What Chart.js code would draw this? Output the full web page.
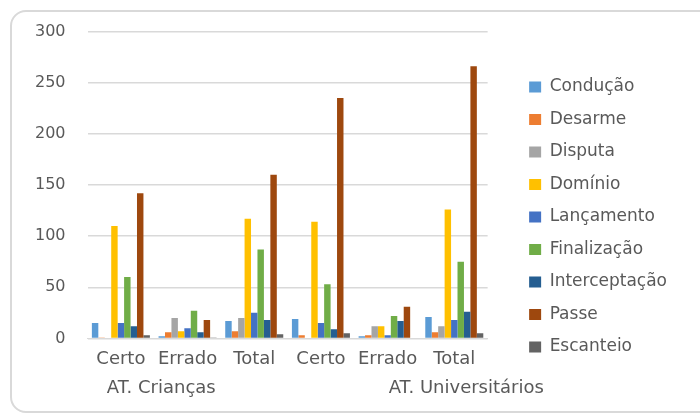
<!DOCTYPE html>
<html>
<head>
<meta charset="utf-8">
<script src="https://cdn.jsdelivr.net/npm/chart.js@4/dist/chart.umd.min.js"></script>
<style>
  html, body { margin: 0; padding: 0; background: #fff; }
  #wrap { position: relative; width: 700px; height: 417px; overflow: hidden; }
  #frame {
    position: absolute; left: 10px; top: 10px; width: 720px; height: 403px;
    border: 2px solid #d9d9d9; border-radius: 16px; box-sizing: border-box;
  }
  #main { position: absolute; left: 0; top: 0; width: 700px; height: 417px; }
</style>
</head>
<body>
<div id="wrap">
  <div id="frame"></div>
  <div id="main"><canvas id="chart" width="700" height="417"></canvas></div>
</div>
<script>
const categories = ['Certo', 'Errado', 'Total', 'Certo', 'Errado', 'Total'];
const groups = ['AT. Crianças', 'AT. Universitários'];
const yTicks = [0, 50, 100, 150, 200, 250, 300];

const conducao = [15, 2, 17, 19, 2, 21];
const desarme = [1, 6, 7, 3, 3, 6];
const disputa = [0, 20, 20, 0, 12, 12];
const dominio = [110, 7, 117, 114, 12, 126];
const lancamento = [15, 10, 25, 15, 3, 18];
const finalizacao = [60, 27, 87, 53, 22, 75];
const interceptacao = [12, 6, 18, 9, 17, 26];
const passe = [142, 18, 160, 235, 31, 266];
const escanteio = [3, 1, 4, 5, 0, 5];

const series = [
  ['Condução', conducao, '#5B9BD5'],
  ['Desarme', desarme, '#ED7D31'],
  ['Disputa', disputa, '#A5A5A5'],
  ['Domínio', dominio, '#FFC000'],
  ['Lançamento', lancamento, '#4472C4'],
  ['Finalização', finalizacao, '#70AD47'],
  ['Interceptação', interceptacao, '#255E91'],
  ['Passe', passe, '#9E480E'],
  ['Escanteio', escanteio, '#636363']
];

const textColor = '#595959';
const fontFamily = '"DejaVu Sans", sans-serif';
Chart.defaults.font.family = fontFamily;
Chart.defaults.color = textColor;

// group labels under the category ticks
const groupLabels = {
  id: 'groupLabels',
  afterDraw(chart) {
    const x = chart.scales.x;
    const ctx = chart.ctx;
    ctx.save();
    ctx.font = '18px ' + fontFamily;
    ctx.fillStyle = textColor;
    ctx.textBaseline = 'middle';
    ctx.textAlign = 'center';
    let p0 = x.getPixelForValue(0), p1 = x.getPixelForValue(1);
    ctx.fillText(groups[0], (p0 + p1) / 2 + 7, 388);
    ctx.fillText(groups[1], x.getPixelForValue(5) + 12, 388);
    ctx.restore();
  }
};

// leave a gap between the plot and the legend
const legendGap = {
  id: 'legendGap',
  beforeInit(chart) {
    const fit = chart.legend.fit;
    chart.legend.fit = function () {
      fit.bind(chart.legend)();
      this.width += 39;
    };
  },
  afterLayout(chart) {
    chart.legend.left += 26;
    chart.legend.top += 40;
  }
};

new Chart(document.getElementById('chart'), {
  type: 'bar',
  data: {
    labels: categories,
    datasets: series.map(([label, data, color]) => {
      return {
        label: label,
        data: data,
        backgroundColor: color,
        borderWidth: 0,
        categoryPercentage: 0.87,
        barPercentage: 1
      };
    })
  },
  options: {
    responsive: false,
    animation: false,
    layout: { padding: { left: 13, top: 22, right: 10, bottom: 45 } },
    plugins: {
      tooltip: { enabled: false },
      legend: {
        position: 'right',
        align: 'center',
        labels: {
          boxWidth: 12,
          boxHeight: 11,
          padding: 15.5,
          color: textColor,
          font: { size: 17 }
        }
      }
    },
    scales: {
      x: {
        grid: { display: false },
        border: { display: true, color: '#d9d9d9', width: 1 },
        ticks: { font: { size: 18 }, padding: 2, maxRotation: 0, autoSkip: false }
      },
      y: {
        min: 0,
        max: 300,
        afterBuildTicks(axis) {
          axis.ticks = yTicks.map(v => ({ value: v }));
        },
        grid: { color: '#d9d9d9', lineWidth: 1.5, drawTicks: false },
        border: { display: false },
        ticks: { font: { size: 16 }, padding: 22 }
      }
    }
  },
  plugins: [groupLabels, legendGap]
});
</script>
</body>
</html>
